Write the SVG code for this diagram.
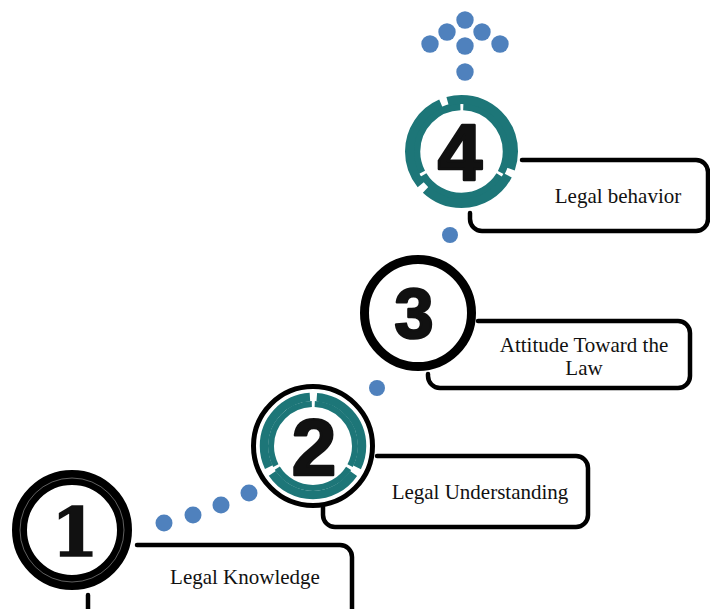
<svg xmlns="http://www.w3.org/2000/svg" width="710" height="609" viewBox="0 0 710 609">
<defs>
<style>
.box{fill:none;stroke:#000;stroke-width:4.5;stroke-linecap:round}
.dot{fill:#4f81bd}
.lbl{font-family:"Liberation Serif","Times New Roman",serif;font-size:21px;fill:#111;text-anchor:middle}
.num{font-family:"Liberation Sans",Arial,sans-serif;font-weight:bold;fill:#111;stroke:#111;stroke-width:2.6;stroke-linejoin:round;text-anchor:middle}
.teal{fill:none;stroke:#1d7678}
</style>
</defs>
<rect width="710" height="609" fill="#fff"/>
<g id="connectors">
<circle class="dot" cx="164" cy="523" r="8.5"/>
<circle class="dot" cx="193" cy="515" r="8.5"/>
<circle class="dot" cx="221" cy="505" r="8.5"/>
<circle class="dot" cx="249" cy="493" r="8.5"/>
<circle class="dot" cx="377" cy="388" r="8"/>
<circle class="dot" cx="450" cy="235" r="8"/>
<circle class="dot" cx="465" cy="20" r="8.7"/>
<circle class="dot" cx="447" cy="32" r="8.7"/>
<circle class="dot" cx="482" cy="32" r="8.7"/>
<circle class="dot" cx="430" cy="44" r="8.7"/>
<circle class="dot" cx="465" cy="46" r="8.7"/>
<circle class="dot" cx="500" cy="44" r="8.7"/>
<circle class="dot" cx="465" cy="72" r="8.7"/>
</g>
<g id="node1">
<path class="box" d="M137,545 H340 A12,12 0 0 1 352,557 V620 M88,595 V620"/>
<circle cx="72" cy="530" r="52.5" fill="#fff" stroke="#000" stroke-width="15"/>
<circle cx="72" cy="530" r="52" fill="none" stroke="#888" stroke-width="0.7"/>
<text x="75" y="556" font-family="DejaVu Serif,serif" font-weight="bold" font-size="68" fill="#111" stroke="#111" stroke-width="1.5" text-anchor="middle">1</text>
<text class="lbl" x="245" y="584">Legal Knowledge</text>
</g>
<g id="node2">
<path class="box" d="M377,456 H576 A12,12 0 0 1 588,468 V515 A12,12 0 0 1 576,527 H335 A12,12 0 0 1 323,515 V507"/>
<circle cx="313" cy="446" r="59.5" fill="#fff" stroke="#000" stroke-width="5"/>
<circle class="teal" cx="313" cy="446" r="42" stroke-width="6" stroke-dasharray="84.95 3" stroke-dashoffset="64.47"/>
<circle class="teal" cx="313" cy="446" r="49" stroke-width="8.5" stroke-dasharray="95.62 7" stroke-dashoffset="73.47"/>
<text class="num" x="314" y="475" font-size="80">2</text>
<text class="lbl" x="480" y="499">Legal Understanding</text>
</g>
<g id="node3">
<path class="box" d="M478,321 H678 A12,12 0 0 1 690,333 V376 A12,12 0 0 1 678,388 H440 A12,12 0 0 1 428,376 V374"/>
<circle cx="418" cy="313" r="53.5" fill="#fff" stroke="#000" stroke-width="9"/>
<text class="num" x="414" y="338" font-size="70">3</text>
<text class="lbl" x="584" y="352">Attitude Toward the</text>
<text class="lbl" x="584" y="375">Law</text>
</g>
<g id="node4">
<path class="box" d="M522,160 H696 A12,12 0 0 1 708,172 V219 A12,12 0 0 1 696,231 H482 A12,12 0 0 1 470,219 V213"/>
<circle cx="461.5" cy="151.5" r="41" fill="#fff"/>
<circle class="teal" cx="461.5" cy="151.5" r="45" stroke-width="7.5" stroke-dasharray="91.25 3" stroke-dashoffset="69.19"/>
<circle class="teal" cx="461.5" cy="151.5" r="52" stroke-width="9" stroke-dasharray="95.91 7" stroke-dashoffset="78.17"/>
<text class="num" x="460" y="180" font-size="80">4</text>
<text class="lbl" x="618" y="203">Legal behavior</text>
</g>
</svg>
